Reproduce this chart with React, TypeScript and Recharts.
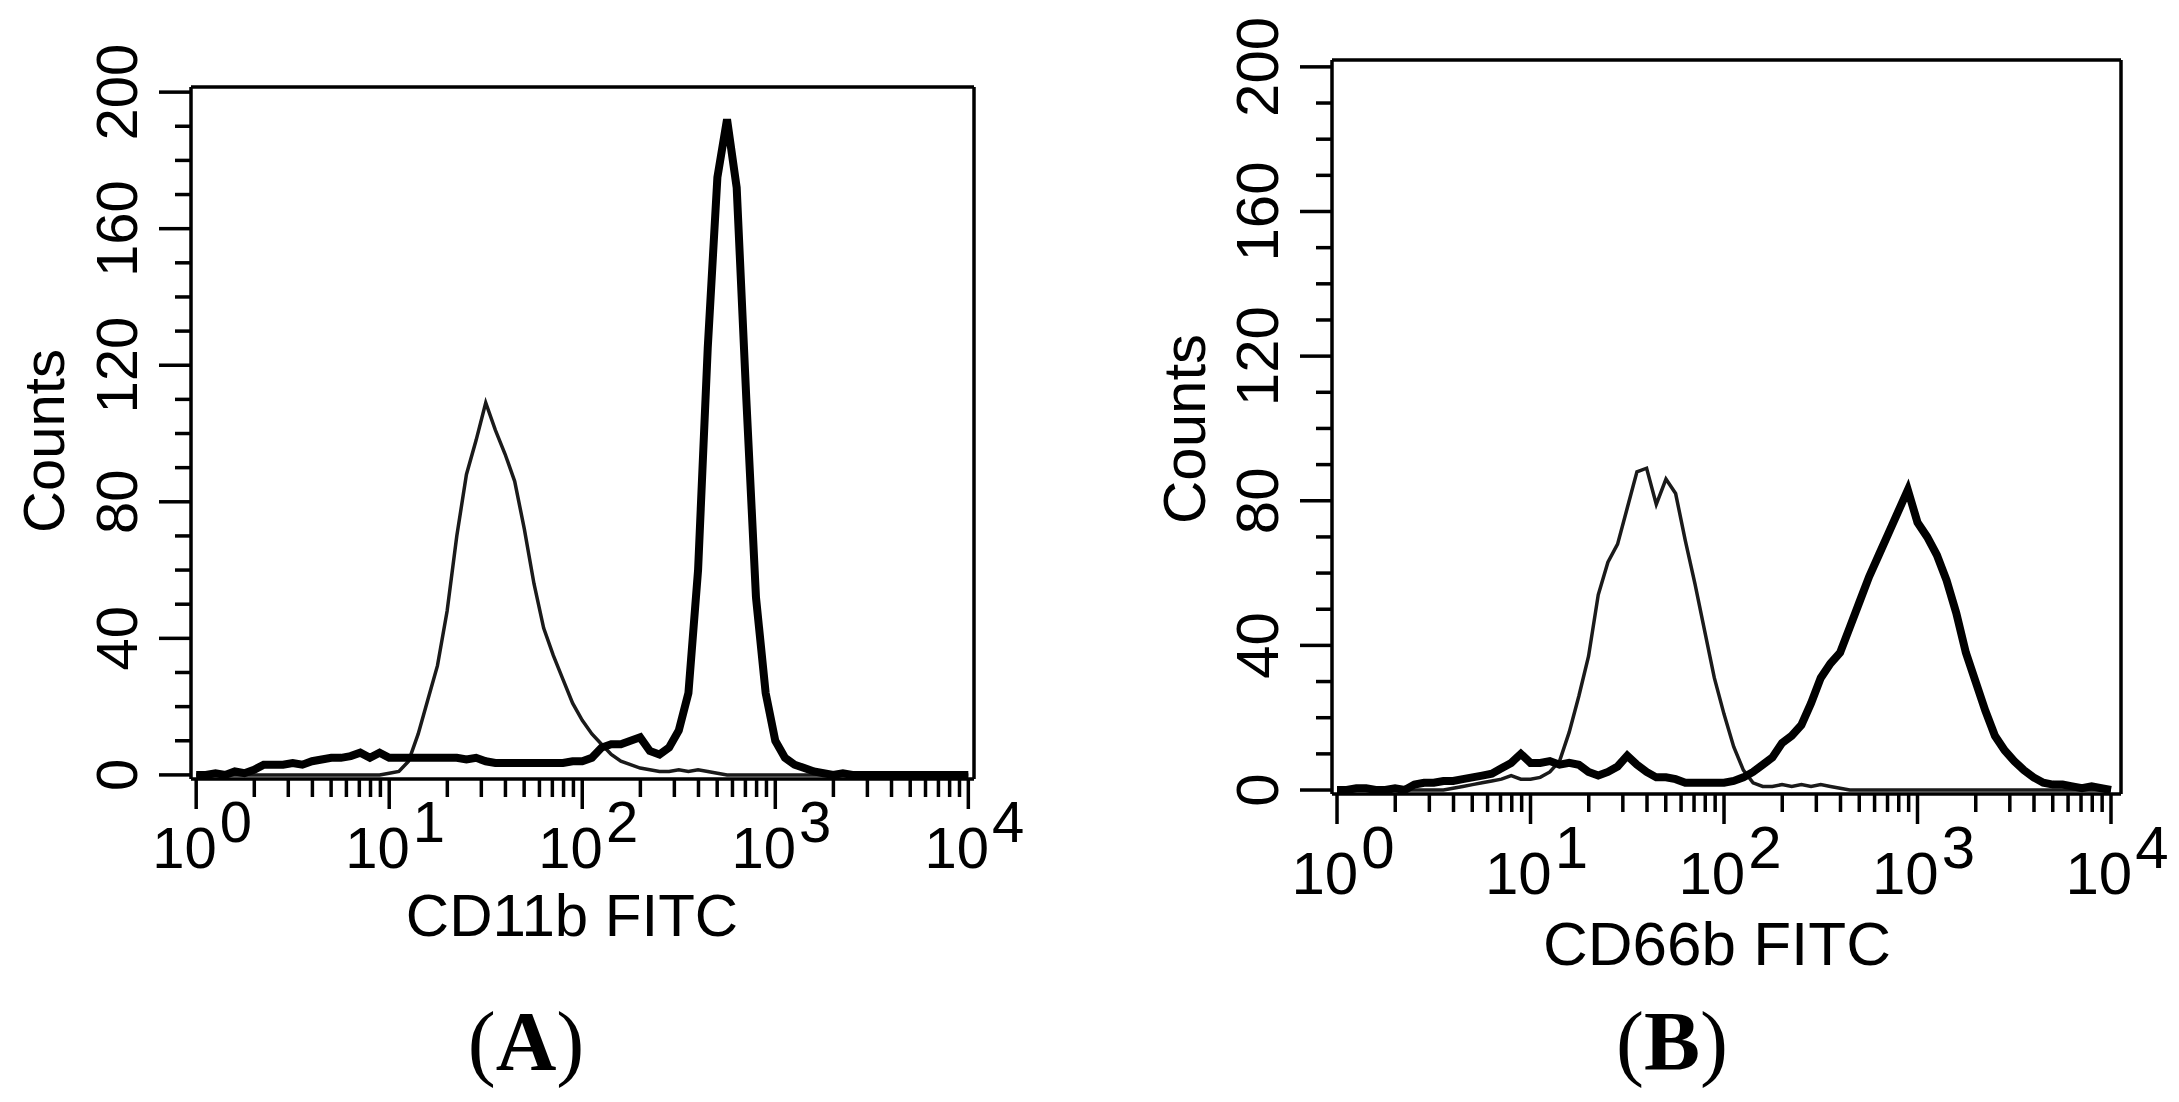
import React from "react";
import { LineChart, Line, XAxis, YAxis, ReferenceLine } from "recharts";

// fluorescence channels (log spaced, 0.05 decade)
const FLUOR = [
  1, 1.122, 1.259, 1.413, 1.585, 1.778, 1.995, 2.239, 2.512, 2.818,
  3.162, 3.548, 3.981, 4.467, 5.012, 5.623, 6.31, 7.079, 7.943, 8.913,
  10, 11.22, 12.59, 14.13, 15.85, 17.78, 19.95, 22.39, 25.12, 28.18,
  31.62, 35.48, 39.81, 44.67, 50.12, 56.23, 63.1, 70.79, 79.43, 89.13,
  100, 112.2, 125.9, 141.3, 158.5, 177.8, 199.5, 223.9, 251.2, 281.8,
  316.2, 354.8, 398.1, 446.7, 501.2, 562.3, 631, 707.9, 794.3, 891.3,
  1000, 1122, 1259, 1413, 1585, 1778, 1995, 2239, 2512, 2818,
  3162, 3548, 3981, 4467, 5012, 5623, 6310, 7079, 7943, 8913,
  10000,
];

// panel A
const A_CONTROL = [
  0, 0, 0, 0, 0, 0, 0, 0, 0, 0,
  0, 0, 0, 0, 0, 0, 0, 0, 0, 0,
  0.5, 1, 4, 12, 22, 32, 48, 70, 88, 98,
  109, 101, 94, 86, 72, 56, 43, 35, 28, 21,
  16, 12, 9, 6, 4, 3, 2, 1.5, 1, 1,
  1.5, 1, 1.5, 1, 0.5, 0, 0, 0, 0, 0,
  0, 0, 0, 0, 0, 0, 0, 0, 0, 0,
  0, 0, 0, 0, 0, 0, 0, 0, 0, 0,
  0,
];
const A_CD11B = [
  0, 0, 0.5, 0, 1, 0.5, 1.5, 3, 3, 3,
  3.5, 3, 4, 4.5, 5, 5, 5.5, 6.5, 5, 6.5,
  5, 5, 5, 5, 5, 5, 5, 5, 4.5, 5,
  4, 3.5, 3.5, 3.5, 3.5, 3.5, 3.5, 3.5, 3.5, 4,
  4, 5, 8, 9, 9, 10, 11, 7, 6, 8,
  13, 24, 60, 125, 175, 192, 172, 110, 52, 24,
  10, 5, 3, 2, 1, 0.5, 0, 0.5, 0, 0,
  0, 0, 0, 0, 0, 0, 0, 0, 0, 0,
  0,
];

// panel B
const B_CONTROL = [
  0, 0, 0, 0, 0, 0, 0, 0, 0, 0,
  0, 0, 0.5, 1, 1.5, 2, 2.5, 3, 4, 3,
  3, 3.5, 5, 8, 16, 26, 37, 54, 63, 68,
  78, 88, 89, 79, 86, 82, 69, 57, 44, 31,
  21, 12, 5.5, 2, 1, 1, 1.5, 1, 1.5, 1,
  1.5, 1, 0.5, 0, 0, 0, 0, 0, 0, 0,
  0, 0, 0, 0, 0, 0, 0, 0, 0, 0,
  0, 0, 0, 0, 0, 0, 0, 0, 0, 0,
  0,
];
const B_CD66B = [
  0, 0, 0.5, 0.5, 0, 0, 0.5, 0, 1.5, 2,
  2, 2.5, 2.5, 3, 3.5, 4, 4.5, 6, 7.5, 10,
  7.5, 7.5, 8, 7, 7.5, 7, 5, 4, 5, 6.5,
  9.5, 7, 5, 3.5, 3.5, 3, 2, 2, 2, 2,
  2, 2.5, 3.5, 5, 7, 9, 13, 15, 18, 24,
  31, 35, 38, 45, 52, 59, 65, 71, 77, 83,
  74, 70, 65, 58, 49, 38, 30, 22, 15, 11,
  8, 5.5, 3.5, 2, 1.5, 1.5, 1, 0.5, 1, 0.5,
  0,
];

const X_TICKS = [
  1, 2, 3, 4, 5, 6, 7, 8, 9,
  10, 20, 30, 40, 50, 60, 70, 80, 90,
  100, 200, 300, 400, 500, 600, 700, 800, 900,
  1000, 2000, 3000, 4000, 5000, 6000, 7000, 8000, 9000,
  10000,
];
const Y_TICKS = [0, 10, 20, 30, 40, 50, 60, 70, 80, 90, 100, 110, 120, 130, 140, 150, 160, 170, 180, 190, 200];
const Y_LABELS = [0, 40, 80, 120, 160, 200];

const SANS = "'Liberation Sans', Arial, Helvetica, sans-serif";
const SERIF = "'Liberation Serif', 'Times New Roman', serif";

const dataA = FLUOR.map((x, i) => ({ x, control: A_CONTROL[i], stained: A_CD11B[i] }));
const dataB = FLUOR.map((x, i) => ({ x, control: B_CONTROL[i], stained: B_CD66B[i] }));

function XTick(props: any) {
  const { x, y, payload, fs, labelDy } = props;
  const v = payload.value;
  const e = Math.log10(v);
  const major = Math.abs(e - Math.round(e)) < 1e-6;
  return (
    <g>
      <line x1={x} x2={x} y1={y} y2={y + (major ? 30 : 18)} stroke="#000" strokeWidth={3.5} />
      {major && (
        <text x={x + 6} y={y + labelDy} textAnchor="middle" fontSize={fs} fontFamily={SANS} fill="#000">
          10
          <tspan dx={3} dy={-26}>{Math.round(e)}</tspan>
        </text>
      )}
    </g>
  );
}

function YTick(props: any) {
  const { x, y, payload, fs } = props;
  const v = payload.value;
  const major = Y_LABELS.includes(v);
  return (
    <g>
      <line x1={x - (major ? 32 : 16)} x2={x} y1={y} y2={y} stroke="#000" strokeWidth={3.5} />
      {major && (
        <text
          transform={`translate(${x - 54},${y}) rotate(-90)`}
          textAnchor="middle"
          fontSize={fs}
          fontFamily={SANS}
          fill="#000"
        >
          {v}
        </text>
      )}
    </g>
  );
}

function Histogram({
  data,
  width,
  margin,
  xDomain,
  yDomain,
  fs,
  labelDy,
}: {
  data: any[];
  width: number;
  margin: { top: number; right: number; bottom: number; left: number };
  xDomain: [number, number];
  yDomain: [number, number];
  fs: number;
  labelDy: number;
}) {
  return (
    <LineChart width={width} height={1102} data={data} margin={margin}>
      <XAxis
        dataKey="x"
        type="number"
        scale="log"
        domain={xDomain}
        allowDataOverflow
        ticks={X_TICKS}
        interval={0}
        tick={<XTick fs={fs} labelDy={labelDy} />}
        tickLine={false}
        axisLine={false}
        tickSize={0}
        tickMargin={0}
        height={100}
      />
      <YAxis
        type="number"
        domain={yDomain}
        allowDataOverflow
        ticks={Y_TICKS}
        interval={0}
        tick={<YTick fs={fs} />}
        tickLine={false}
        axisLine={false}
        tickSize={0}
        tickMargin={0}
        width={100}
      />
      {/* plot box */}
      <ReferenceLine y={yDomain[1]} stroke="#000" strokeWidth={3.5} ifOverflow="visible" />
      <ReferenceLine y={yDomain[0]} stroke="#000" strokeWidth={3.5} ifOverflow="visible" />
      <ReferenceLine x={xDomain[0]} stroke="#000" strokeWidth={3.5} ifOverflow="visible" />
      <ReferenceLine x={xDomain[1]} stroke="#000" strokeWidth={3.5} ifOverflow="visible" />
      <Line
        type="linear"
        dataKey="control"
        stroke="#1a1a1a"
        strokeWidth={3.5}
        dot={false}
        activeDot={false}
        isAnimationActive={false}
      />
      <Line
        type="linear"
        dataKey="stained"
        stroke="#000"
        strokeWidth={8}
        dot={false}
        activeDot={false}
        isAnimationActive={false}
      />
    </LineChart>
  );
}

export default function App() {
  return (
    <div style={{ position: "absolute", left: 0, top: 0, width: 2179, height: 1102, background: "#fff" }}>
      <div style={{ position: "absolute", left: 0, top: 0 }}>
        <Histogram
          data={dataA}
          width={1090}
          margin={{ top: 87, right: 116, bottom: 223, left: 91 }}
          xDomain={[0.94, 10700]}
          yDomain={[-1.2, 201.5]}
          fs={58}
          labelDy={89}
        />
      </div>
      <div style={{ position: "absolute", left: 1090, top: 0 }}>
        <Histogram
          data={dataB}
          width={1089}
          margin={{ top: 60, right: 58, bottom: 208, left: 142 }}
          xDomain={[0.942, 11264]}
          yDomain={[-1.1, 201.9]}
          fs={60}
          labelDy={100}
        />
      </div>
      <svg width={2179} height={1102} style={{ position: "absolute", left: 0, top: 0, pointerEvents: "none" }}>
        <text transform="translate(64,441) rotate(-90)" textAnchor="middle" fontSize={58} fontFamily={SANS}>
          Counts
        </text>
        <text x={572} y={936} textAnchor="middle" fontSize={60} fontFamily={SANS}>
          CD11b FITC
        </text>
        <text transform="translate(1205,429) rotate(-90)" textAnchor="middle" fontSize={60} fontFamily={SANS}>
          Counts
        </text>
        <text x={1717} y={965} textAnchor="middle" fontSize={62} fontFamily={SANS}>
          CD66b FITC
        </text>
        <text x={526} y={1070} textAnchor="middle" fontSize={84} fontFamily={SERIF}>
          (<tspan fontWeight="bold">A</tspan>)
        </text>
        <text x={1672} y={1070} textAnchor="middle" fontSize={84} fontFamily={SERIF}>
          (<tspan fontWeight="bold">B</tspan>)
        </text>
      </svg>
    </div>
  );
}
